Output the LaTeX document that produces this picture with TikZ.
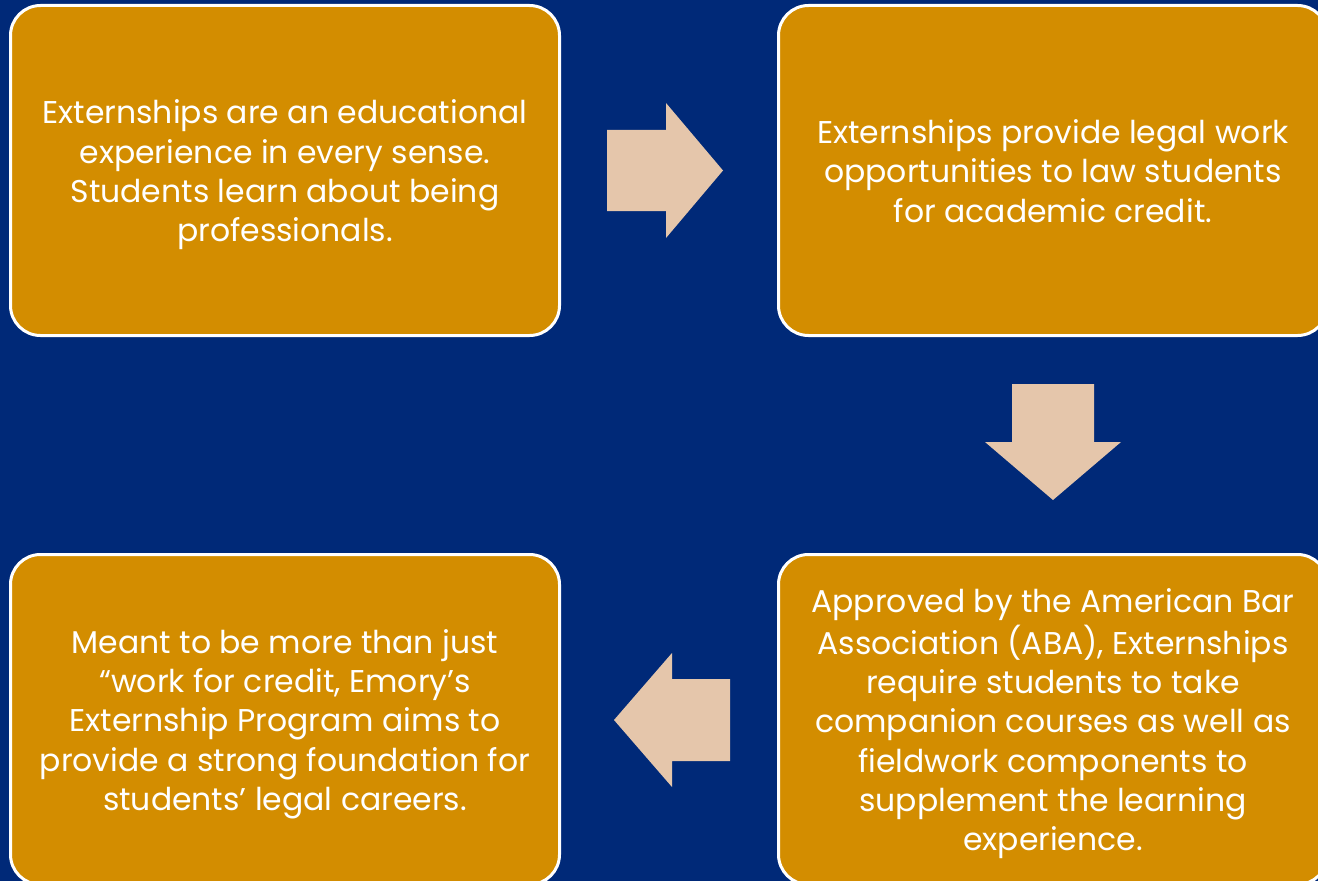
\documentclass[tikz,border=0pt]{standalone}
\usepackage{fontspec}
\setmainfont{Poppins}
\definecolor{bgblue}{RGB}{0,41,120}
\definecolor{boxfill}{RGB}{211,141,0}
\definecolor{arrowfill}{RGB}{229,198,171}
\begin{document}
\begin{tikzpicture}[x=0.75pt,y=-0.75pt,
  card/.style={draw=white, line width=2.25pt, fill=boxfill, rounded corners=22.5pt,
    minimum width=411.75pt, minimum height=247.5pt, inner sep=0pt},
  cardtext/.style={inner sep=0pt, text=white, font=\fontsize{23.6}{29.5}\selectfont},
  blockarrow/.style={fill=arrowfill, draw=none}]
\useasboundingbox (0,0) rectangle (1318,881);
\clip (0,0) rectangle (1318,881);
\fill[bgblue] (0,0) rectangle (1318,881);

\node[card] (b1) at (285,170.5) {};
\node[card] (b2) at (1053,170.5) {};
\node[card] (b3) at (1053,719.5) {};
\node[card] (b4) at (285,719.5) {};

\node[cardtext] (t1) at ([yshift=-3.4pt]b1.center) {\begin{tabular}{@{}c@{}}Externships are an educational\\experience in every sense.\\Students learn about being\\professionals.\end{tabular}};
\node[cardtext] (t2) at ([yshift=-3.4pt]b2.center) {\begin{tabular}{@{}c@{}}Externships provide legal work\\opportunities to law students\\for academic credit.\end{tabular}};
\node[cardtext] (t3) at ([yshift=-3.4pt]b3.center) {\begin{tabular}{@{}c@{}}Approved by the American Bar\\Association (ABA), Externships\\require students to take\\companion courses as well as\\fieldwork components to\\supplement the learning\\experience.\end{tabular}};
\node[cardtext] (t4) at ([yshift=-3.4pt]b4.center) {\begin{tabular}{@{}c@{}}Meant to be more than just\\“work for credit, Emory’s\\Externship Program aims to\\provide a strong foundation for\\students’ legal careers.\end{tabular}};

% right arrow b1 -> b2
\fill[blockarrow] (607,130) -- (666,130) -- (666,103) -- (723,170.5) -- (666,238) -- (666,211) -- (607,211) -- cycle;
% down arrow b2 -> b3
\fill[blockarrow] (1012,384) -- (1094,384) -- (1094,442) -- (1121,442) -- (1053,500) -- (985,442) -- (1012,442) -- cycle;
% left arrow b3 -> b4
\fill[blockarrow] (730,679) -- (672,679) -- (672,653) -- (614,720) -- (672,787) -- (672,761) -- (730,761) -- cycle;
\end{tikzpicture}
\end{document}
